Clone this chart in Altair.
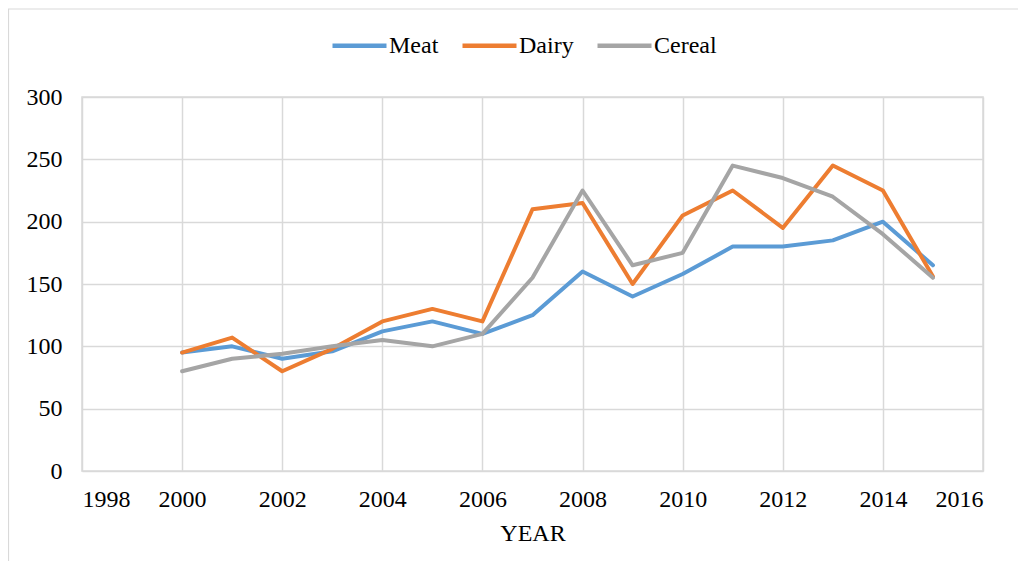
import altair as alt
import pandas as pd

years = list(range(2000, 2016))
meat = [95, 100, 90, 96, 112, 120, 110, 125, 160, 140, 158, 180, 180, 185, 200, 165]
dairy = [95, 107, 80, 98, 120, 130, 120, 210, 215, 150, 205, 225, 195, 245, 225, 156]
cereal = [80, 90, 94, 100, 105, 100, 110, 155, 225, 165, 175, 245, 235, 220, 190, 155]

series = ["Meat", "Dairy", "Cereal"]
colors = ["#5B9BD5", "#ED7D31", "#A5A5A5"]

rows = []
for name, vals in zip(series, [meat, dairy, cereal]):
    for y, v in zip(years, vals):
        rows.append({"YEAR": y, "value": v, "series": name})
df = pd.DataFrame(rows)

FONT = "Liberation Serif"
GRID = "#D9D9D9"
FS = 24

lines = alt.Chart(df).mark_line(strokeWidth=4, strokeCap="round", strokeJoin="round").encode(
    x=alt.X("YEAR:Q",
            scale=alt.Scale(domain=[1998, 2016], nice=False, zero=False),
            axis=alt.Axis(values=list(range(1998, 2017, 2)), format="d", title="YEAR",
                          grid=True, gridColor=GRID, gridWidth=1.5,
                          domain=False, ticks=False,
                          labelFontSize=FS, labelColor="#000000",
                          labelPadding=16, titleFontSize=FS,
                          titleFontWeight="normal", titleColor="#000000", titlePadding=10)),
    y=alt.Y("value:Q",
            scale=alt.Scale(domain=[0, 300], nice=False),
            axis=alt.Axis(values=list(range(0, 301, 50)), title=None,
                          grid=True, gridColor=GRID, gridWidth=1.5,
                          domain=False, ticks=False,
                          labelFontSize=FS, labelColor="#000000",
                          labelPadding=20)),
    color=alt.Color("series:N",
                    scale=alt.Scale(domain=series, range=colors),
                    legend=alt.Legend(title=None, orient="none", direction="horizontal",
                                      legendX=248, legendY=-81,
                                      symbolType="stroke", symbolSize=2916,
                                      symbolStrokeWidth=4.5,
                                      labelFontSize=FS, labelColor="#000000",
                                      labelOffset=0, columnPadding=14, padding=0,
                                      labelLimit=300)),
    order=alt.Order("YEAR:Q"),
)

border = alt.Chart(pd.DataFrame({"a": [0]})).mark_rect(
    fill=None, stroke=GRID, strokeWidth=1.2
).encode(
    x=alt.value(-73.5), x2=alt.value(1000), y=alt.value(-88), y2=alt.value(600)
)

chart = alt.layer(border, lines).properties(
    width=901, height=374,
    autosize=alt.AutoSizeParams(type="none"),
    padding={"left": 74, "top": 89, "right": 35, "bottom": 90},
).configure(
    background="white", font=FONT
).configure_axis(
    labelFont=FONT, titleFont=FONT
).configure_legend(
    labelFont=FONT, titleFont=FONT
).configure_view(stroke=GRID, strokeWidth=1.5)

chart.save("out.html", embed_options={"renderer": "svg", "actions": False})
